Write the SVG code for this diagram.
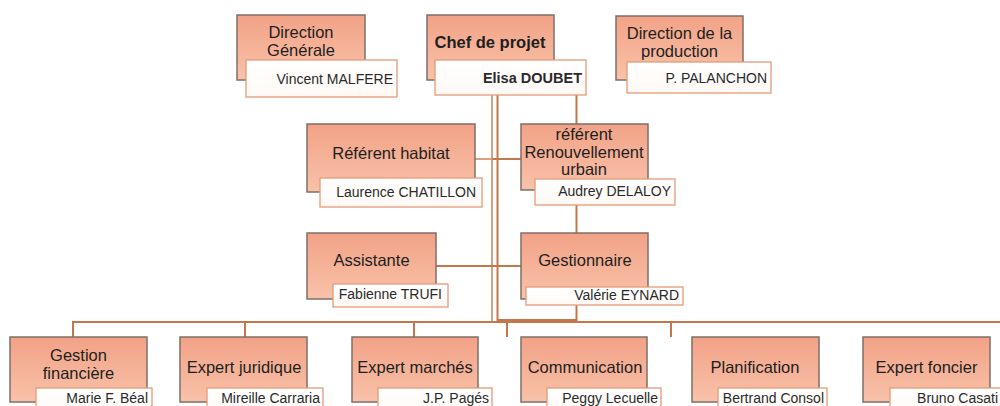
<svg xmlns="http://www.w3.org/2000/svg" width="1000" height="406" viewBox="0 0 1000 406">
<defs>
<linearGradient id="gBox" x1="0" y1="0" x2="0" y2="1">
<stop offset="0" stop-color="#F2A286"/>
<stop offset="1" stop-color="#F8C2AA"/>
</linearGradient>
<linearGradient id="gLbl" x1="0" y1="0" x2="0" y2="1">
<stop offset="0" stop-color="#FFFFFF"/>
<stop offset="1" stop-color="#FFF9F5"/>
</linearGradient>
<style>
.box{fill:url(#gBox);stroke:#7F6F68;stroke-width:1.5}
.lbl{fill:url(#gLbl);stroke:#E29C78;stroke-width:1.3}
.t{font-family:"Liberation Sans",Arial,sans-serif;font-size:16.5px;fill:#1E1E1E;text-anchor:middle}
.b{font-weight:bold}
.n{font-family:"Liberation Sans",Arial,sans-serif;font-size:14px;fill:#2A2A2A;text-anchor:end}
.c{stroke:#C4774A;stroke-width:2;fill:none}
.cl{stroke:#D9A184;stroke-width:2;fill:none}
</style>
</defs>
<rect width="1000" height="406" fill="#FFFFFF"/>

<g id="connectors">
<line class="cl" x1="492" y1="95" x2="492" y2="322"/>
<line class="c" x1="497.5" y1="95" x2="497.5" y2="322"/>
<line class="c" x1="576.5" y1="95" x2="576.5" y2="124"/>
<line class="c" x1="576.5" y1="205" x2="576.5" y2="233"/>
<line class="c" x1="576.5" y1="305" x2="576.5" y2="322"/>
<line class="cl" x1="475" y1="159" x2="492" y2="159"/>
<line class="c" x1="492" y1="159" x2="521" y2="159"/>
<line class="c" x1="436" y1="266" x2="521" y2="266"/>
<line class="c" x1="497" y1="320" x2="577" y2="320"/>
<line class="c" x1="73" y1="322" x2="1000" y2="322"/>
<line class="c" x1="73" y1="321" x2="73" y2="337"/>
<line class="c" x1="245" y1="321" x2="245" y2="337"/>
<line class="c" x1="414" y1="321" x2="414" y2="337"/>
<line class="c" x1="507" y1="321" x2="507" y2="337"/>
<line class="c" x1="671" y1="321" x2="671" y2="337"/>
</g>

<g id="n-direction-generale">
<rect class="box" x="237" y="15" width="128" height="65"/>
<text class="t" x="301" y="38">Direction</text>
<text class="t" x="301" y="56">Générale</text>
<rect class="lbl" x="246" y="60" width="151" height="37"/>
<text class="n" x="393" y="84">Vincent MALFERE</text>
</g>

<g id="n-chef-de-projet">
<rect class="box" x="427" y="15" width="127" height="65"/>
<text class="t b" x="490" y="48">Chef de projet</text>
<rect class="lbl" x="435" y="60" width="151" height="35"/>
<text class="n b" x="582" y="83" style="font-size:14.5px">Elisa  DOUBET</text>
</g>

<g id="n-direction-production">
<rect class="box" x="616" y="16" width="127" height="64"/>
<text class="t" x="679.5" y="39">Direction de la</text>
<text class="t" x="679.5" y="57">production</text>
<rect class="lbl" x="627" y="62" width="144" height="31"/>
<text class="n" x="767" y="83">P. PALANCHON</text>
</g>

<g id="n-referent-habitat">
<rect class="box" x="307" y="124" width="168" height="68"/>
<text class="t" x="391" y="159">Référent habitat</text>
<rect class="lbl" x="320" y="178" width="162" height="29"/>
<text class="n" x="476" y="197">Laurence CHATILLON</text>
</g>

<g id="n-referent-renouvellement">
<rect class="box" x="521" y="124" width="127" height="66"/>
<text class="t" x="584" y="140">référent</text>
<text class="t" x="584" y="158">Renouvellement</text>
<text class="t" x="584" y="175">urbain</text>
<rect class="lbl" x="535" y="179" width="140" height="26"/>
<text class="n" x="671" y="196">Audrey DELALOY</text>
</g>

<g id="n-assistante">
<rect class="box" x="307" y="233" width="129" height="66"/>
<text class="t" x="371.5" y="266">Assistante</text>
<rect class="lbl" x="333" y="284" width="115" height="23"/>
<text class="n" x="442" y="299">Fabienne TRUFI</text>
</g>

<g id="n-gestionnaire">
<rect class="box" x="521" y="233" width="127" height="66"/>
<text class="t" x="585" y="266">Gestionnaire</text>
<rect class="lbl" x="526" y="287" width="157" height="18"/>
<text class="n" x="679" y="300">Valérie EYNARD</text>
</g>

<g id="n-gestion-financiere">
<rect class="box" x="10" y="337" width="137" height="65"/>
<text class="t" x="78.5" y="361">Gestion</text>
<text class="t" x="78.5" y="379">financière</text>
<rect class="lbl" x="36" y="388" width="116" height="30"/>
<text class="n" x="148" y="403">Marie F. Béal</text>
</g>

<g id="n-expert-juridique">
<rect class="box" x="180" y="337" width="127" height="65"/>
<text class="t" x="244" y="373">Expert juridique</text>
<rect class="lbl" x="207" y="388" width="116" height="30"/>
<text class="n" x="320" y="403">Mireille Carraria</text>
</g>

<g id="n-expert-marches">
<rect class="box" x="352" y="337" width="126" height="65"/>
<text class="t" x="415" y="373">Expert marchés</text>
<rect class="lbl" x="378" y="388" width="114" height="30"/>
<text class="n" x="489" y="403">J.P. Pagés</text>
</g>

<g id="n-communication">
<rect class="box" x="521" y="337" width="126" height="65"/>
<text class="t" x="585" y="373">Communication</text>
<rect class="lbl" x="547" y="388" width="114" height="30"/>
<text class="n" x="658" y="403">Peggy Lecuelle</text>
</g>

<g id="n-planification">
<rect class="box" x="692" y="337" width="127" height="65"/>
<text class="t" x="755" y="373">Planification</text>
<rect class="lbl" x="718" y="388" width="109" height="30"/>
<text class="n" x="824" y="403">Bertrand Consol</text>
</g>

<g id="n-expert-foncier">
<rect class="box" x="863" y="337" width="127" height="65"/>
<text class="t" x="926.5" y="373">Expert foncier</text>
<rect class="lbl" x="890" y="388" width="120" height="30"/>
<text class="n" x="998" y="403">Bruno Casati</text>
</g>
</svg>
